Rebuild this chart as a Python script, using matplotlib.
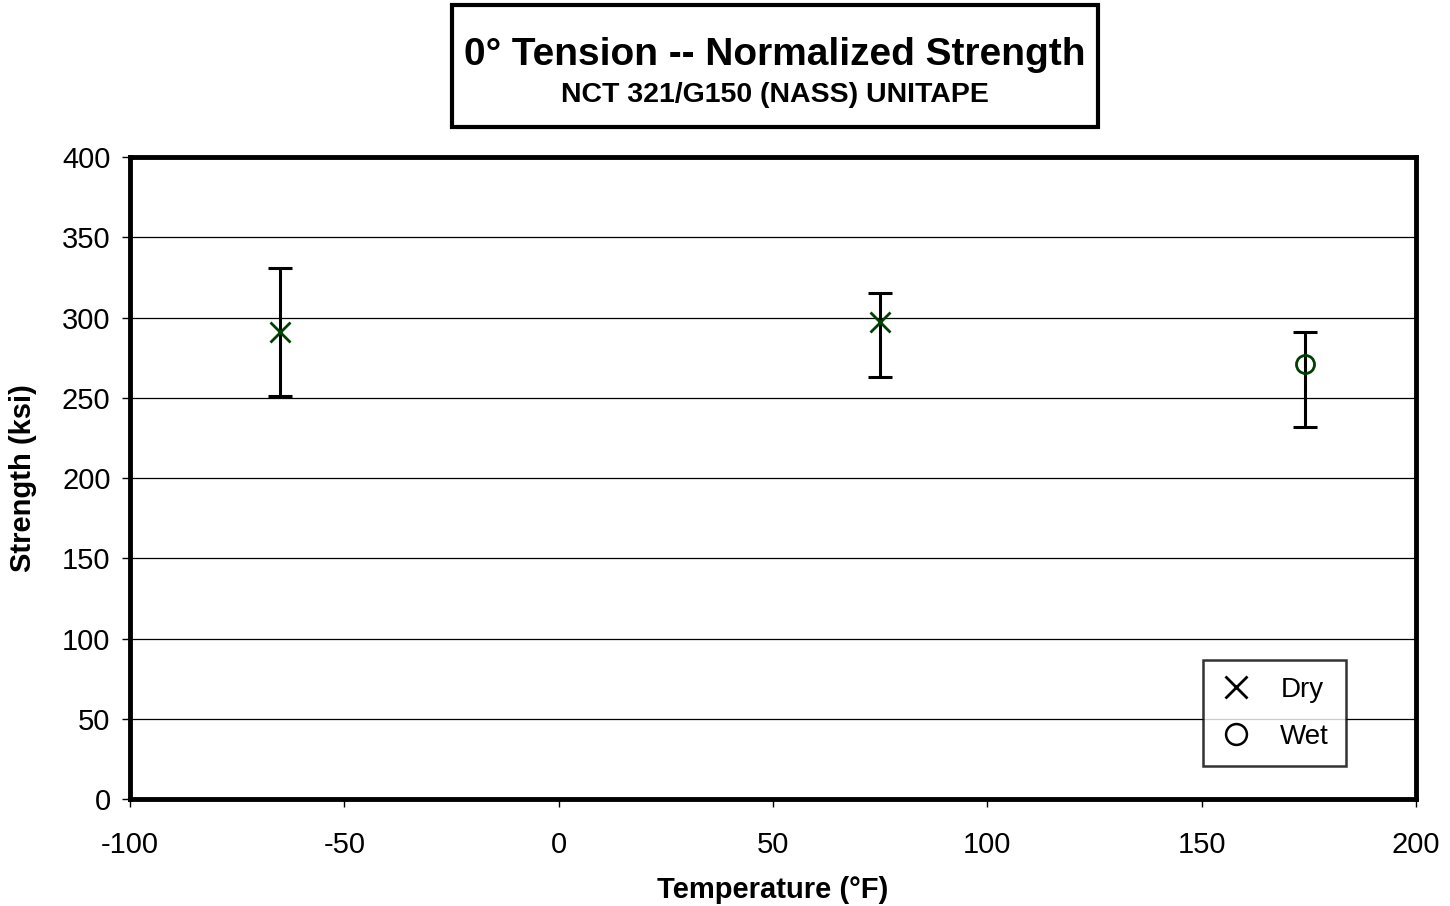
import numpy as np
import matplotlib
matplotlib.use('Agg')
from matplotlib import pyplot as plt
from matplotlib.lines import Line2D
from matplotlib.patches import Rectangle

plt.rcParams['font.family'] = ['Liberation Sans', 'DejaVu Sans']
plt.rcParams['axes.unicode_minus'] = False

# data
dry_temp = [-65, 75]
dry_strength = [291, 297]
dry_low = [251, 263]
dry_high = [331, 315]

wet_temp = [174]
wet_strength = [271]
wet_low = [232]
wet_high = [291]

xticks = [-100, -50, 0, 50, 100, 150, 200]
yticks = [0, 50, 100, 150, 200, 250, 300, 350, 400]

mark_col = '#004000'

fig = plt.figure(figsize=(14.5, 9.06), dpi=100)
ax = fig.add_axes([0.0897, 0.1181, 0.8869, 0.7086])

def draw(t, s, lo, hi, marker):
    t = np.array(t); s = np.array(s)
    err = [s - np.array(lo), np.array(hi) - s]
    ax.errorbar(t, s, yerr=err, fmt='none', ecolor='black', elinewidth=2.2,
                capsize=8.3, capthick=2.2, zorder=3)
    if marker == 'x':
        ax.plot(t, s, 'x', color=mark_col, ms=15, mew=2, zorder=4)
    else:
        ax.plot(t, s, 'o', mfc='none', mec=mark_col, ms=13, mew=2, zorder=4)

draw(dry_temp, dry_strength, dry_low, dry_high, 'x')
draw(wet_temp, wet_strength, wet_low, wet_high, 'o')

ax.set_xlim(-100, 200)
ax.set_ylim(0, 400)
ax.set_xticks(xticks)
ax.set_yticks(yticks)
ax.tick_params(direction='out', length=6, width=1, labelsize=21)
ax.tick_params(axis='x', pad=17)
ax.tick_params(axis='y', pad=8)
ax.yaxis.grid(True, color='black', lw=0.9)
ax.set_axisbelow(True)
for sp in ax.spines.values():
    sp.set_linewidth(3.5)

ax.set_xlabel('Temperature (°F)', fontsize=21, fontweight='bold', labelpad=12)
ax.set_ylabel('Strength (ksi)', fontsize=21, fontweight='bold', labelpad=18)

handles = [Line2D([], [], ls='none', marker='x', color='black', ms=16, mew=2),
           Line2D([], [], ls='none', marker='o', mfc='none', mec='black', ms=15, mew=1.8)]
leg = ax.legend(handles, ['Dry', 'Wet'], loc='upper left',
                bbox_to_anchor=(0.834, 0.2165), fontsize=20, frameon=True,
                fancybox=False, edgecolor='black', handlelength=1.2,
                handletextpad=1.0, borderpad=0.6, labelspacing=0.75,
                borderaxespad=0)
leg.get_frame().set_linewidth(1.8)

# title box
fig.patches.append(Rectangle((452 / 1450, 1 - 127 / 906), 646 / 1450, 122 / 906,
                             transform=fig.transFigure, fill=False,
                             edgecolor='black', lw=3))
fig.text(0.5345, 0.9393, '0° Tension -- Normalized Strength', ha='center',
         va='center', fontsize=28, fontweight='bold')
fig.text(0.5345, 0.8952, 'NCT 321/G150 (NASS) UNITAPE', ha='center',
         va='center', fontsize=20.5, fontweight='bold')

fig.savefig('out.png', dpi=100)
